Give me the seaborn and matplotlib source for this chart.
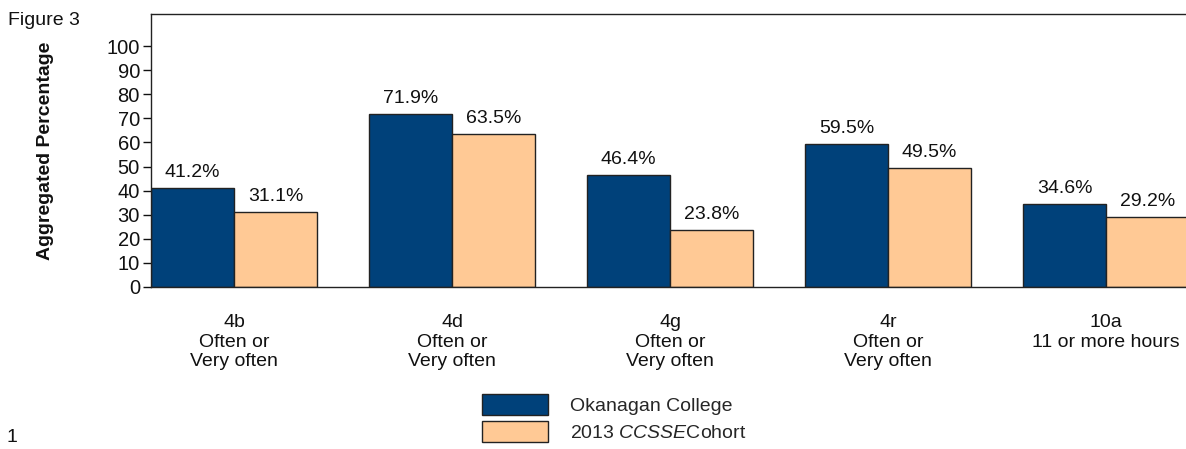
import pandas as pd
import seaborn as sns
import matplotlib.pyplot as plt
from matplotlib.patches import Patch

categories = ['4b\nOften or\nVery often', '4d\nOften or\nVery often', '4g\nOften or\nVery often',
              '4r\nOften or\nVery often', '10a\n11 or more hours']
college = [41.2, 71.9, 46.4, 59.5, 34.6]
cohort = [31.1, 63.5, 23.8, 49.5, 29.2]
groups = ['Okanagan College', '2013 $\\mathit{CCSSE}$Cohort']
colors = ['#00417A', '#FFC995']
yticks = list(range(0, 101, 10))

df = pd.DataFrame({
    'item': categories * 2,
    'pct': college + cohort,
    'group': [groups[0]] * len(categories) + [groups[1]] * len(categories),
})

sns.set_style('white')
plt.rcParams['font.family'] = ['Liberation Sans', 'DejaVu Sans']
plt.rcParams['mathtext.fontset'] = 'custom'
plt.rcParams['mathtext.it'] = 'Liberation Sans:italic'
plt.rcParams['mathtext.rm'] = 'Liberation Sans'
fs = 14

fig = plt.figure(figsize=(11.86, 4.49), dpi=100)
ax = fig.add_axes([151 / 1186, 162 / 449, 1035 / 1186, 273 / 449])

sns.barplot(data=df, x='item', y='pct', hue='group', palette=colors, width=0.762,
            edgecolor='#222222', linewidth=1, saturation=1, ax=ax, legend=False)

for cont in ax.containers:
    ax.bar_label(cont, fmt='%.1f%%', padding=5, fontsize=fs, color='#111111')

ax.set_xlim(-0.381, 4.367)
ax.set_ylim(0, 113.3)
ax.set_yticks(yticks)
ax.tick_params(axis='y', left=True, length=6, width=1, labelsize=14.5, pad=2, colors='#111111')
ax.tick_params(axis='x', bottom=False, labelsize=fs, pad=16, colors='#111111')
for lbl in ax.get_xticklabels():
    lbl.set_linespacing(1.2)
ax.set_xlabel('')
ax.set_ylabel('Aggregated Percentage', fontsize=fs, fontweight='bold', color='#111111')
ax.yaxis.set_label_coords(-0.094, 0.5)
for side in ['left', 'bottom', 'top']:
    ax.spines[side].set_color('#222222')
    ax.spines[side].set_linewidth(1)
ax.spines['right'].set_visible(False)

handles = [Patch(facecolor=c, edgecolor='#222222', linewidth=1) for c in colors]
fig.legend(handles, groups, loc='upper left', bbox_to_anchor=(472 / 1186, 1 - 384 / 449),
           frameon=False, borderpad=0, fontsize=fs, handlelength=3.4, handleheight=1.3,
           labelspacing=0.3, handletextpad=1.15)

fig.text(8 / 1186, 1 - 12 / 449, 'Figure 3', fontsize=fs, va='top', ha='left', color='#111111')
fig.text(7 / 1186, 1 - 442 / 449, '1', fontsize=fs, va='baseline', ha='left', color='#111111')

fig.savefig('out.png', dpi=100)
